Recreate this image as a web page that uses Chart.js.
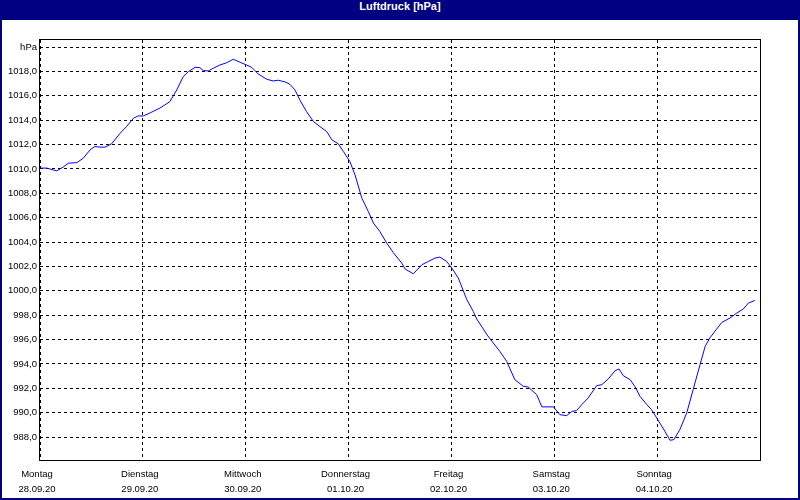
<!DOCTYPE html>
<html>
<head>
<meta charset="utf-8">
<script src="https://cdn.jsdelivr.net/npm/chart.js@4"></script>
<style>
  body { margin: 0; background: #000080; }
  #frame { position: relative; width: 800px; height: 500px; background: #000080; overflow: hidden; }
  #title { position: absolute; left: 0; top: 0; width: 800px; height: 20px; line-height: 21px; text-align: center;
           color: #fff; font: bold 11px "Liberation Sans", Arial, sans-serif; }
  #inner { position: absolute; left: 2px; top: 20px; width: 796px; height: 478px; background: #fff; }
</style>
</head>
<body>
<div id="frame">
  <div id="title">Luftdruck [hPa]</div>
  <div id="inner"><canvas id="myChart" width="796" height="478"></canvas></div>
</div>
<script>
// time in hours since Montag 28.09.20 00:00
let hours = [0,1.6,3.9,5.4,6.6,8.6,10.1,11.7,12.8,14.0,
  15.2,16.7,18.7,20.2,21.8,22.9,24.1,25.7,28.0,30.3,
  31.9,33.4,34.6,36.2,37.3,38.1,39.3,40.4,42.0,43.6,
  45.1,46.7,48.2,49.4,50.9,52.9,54.4,55.6,57.2,58.3,
  59.5,60.7,62.2,63.8,65.3,66.9,68.1,69.6,70.8,72.3,
  73.5,75.1,76.6,77.8,79.3,80.9,82.4,84.4,85.2,87.1,
  89.1,90.6,92.2,93.3,94.9,96.1,97.6,99.6,101.1,101.9,
  104.5,107.3,108.9,110.8,112.8,113.9,115.9,117.1,119.8,121.3,
  122.9,124.1,125.2,126.4,127.9,129.9,131.1,132.6,134.2,135.1,
  136.1,137.7,138.8,140.0,141.6,142.7,143.9,145.8,147.0,147.9,
  149.3,150.9,152.4,154.0,155.2,156.3,157.9,159.1,161.0,162.6,
  164.1,165.3,166.8];

let pressure = [1010.07,1010.07,1009.84,1010.15,1010.47,1010.52,1010.88,1011.57,1011.84,1011.79,
  1011.79,1012.06,1012.93,1013.48,1014.16,1014.35,1014.35,1014.6,1015.0,1015.52,
  1016.48,1017.57,1017.98,1018.34,1018.31,1018.07,1018.04,1018.26,1018.53,1018.72,
  1019.0,1018.75,1018.53,1018.34,1017.8,1017.36,1017.22,1017.28,1017.14,1016.95,
  1016.48,1015.61,1014.7,1013.89,1013.48,1013.07,1012.39,1012.06,1011.43,1010.61,
  1009.52,1007.6,1006.51,1005.56,1004.87,1003.92,1003.15,1002.28,1001.79,1001.4,
  1002.14,1002.41,1002.69,1002.77,1002.41,1001.87,1001.05,999.27,998.31,997.69,
  996.3,995.03,994.21,992.71,992.16,992.11,991.48,990.48,990.48,989.84,
  989.76,990.11,990.17,990.66,991.21,992.22,992.3,992.77,993.45,993.59,
  993.04,992.71,992.16,991.34,990.66,990.25,989.57,988.48,987.74,987.79,
  988.61,989.98,991.89,993.94,995.44,996.13,996.87,997.41,997.77,998.18,
  998.51,999.0,999.21];

let dayNames = ["Montag","Dienstag","Mittwoch","Donnerstag","Freitag","Samstag","Sonntag"];
let dayDates = ["28.09.20","29.09.20","30.09.20","01.10.20","02.10.20","03.10.20","04.10.20"];
let dayTicks = [0,24,48,72,96,120,144];
let yTicks = [988,990,992,994,996,998,1000,1002,1004,1006,1008,1010,1012,1014,1016,1018,1020];

let points = [];
for (let i = 0; i < hours.length; i++) {
  points.push({x: hours[i], y: pressure[i]});
}

const tickFont = {family: "'Liberation Sans', Arial, sans-serif", size: 9.5};

// solid black frame around the plot area
const framePlugin = {
  id: 'frame',
  afterDatasetsDraw(chart) {
    const a = chart.chartArea, ctx = chart.ctx;
    ctx.save();
    ctx.strokeStyle = '#000';
    ctx.lineWidth = 1;
    ctx.strokeRect(a.left - 0.5, a.top - 0.5, a.right - a.left + 1, a.bottom - a.top + 1);
    ctx.restore();
  }
};

new Chart("myChart", {
  type: "line",
  data: {
    datasets: [{
      data: points,
      borderColor: "#0000ff",
      borderWidth: 1,
      pointRadius: 0,
      tension: 0,
      fill: false
    }]
  },
  options: {
    responsive: false,
    animation: false,
    layout: {padding: {left: 0, top: 20, right: 38, bottom: 0}},
    plugins: {legend: {display: false}, title: {display: false}, tooltip: {enabled: false}},
    scales: {
      x: {
        type: "linear",
        min: 0,
        max: 168,
        afterBuildTicks: (scale) => { scale.ticks = dayTicks.map(v => ({value: v})); },
        afterFit: (scale) => { scale.height = 38; },
        grid: {color: "#000", lineWidth: 1, drawTicks: false},
        border: {display: false, dash: [3, 3]},
        ticks: {
          color: "#000",
          font: Object.assign({lineHeight: 1.55}, tickFont),
          padding: 7,
          maxRotation: 0,
          autoSkip: false,
          labelOffset: -3,
          callback: (v) => { let i = dayTicks.indexOf(v); return [dayNames[i], dayDates[i]]; }
        }
      },
      y: {
        min: 986.12,
        max: 1020.58,
        afterBuildTicks: (scale) => { scale.ticks = yTicks.map(v => ({value: v})); },
        afterFit: (scale) => { scale.width = 38; },
        grid: {color: "#000", lineWidth: 1, drawTicks: false},
        border: {display: false, dash: [3, 3]},
        ticks: {
          color: "#000",
          font: tickFont,
          padding: 3,
          autoSkip: false,
          callback: (v) => v === 1020 ? "hPa" : v.toFixed(1).replace(".", ",")
        }
      }
    }
  },
  plugins: [framePlugin]
});
</script>
</body>
</html>
